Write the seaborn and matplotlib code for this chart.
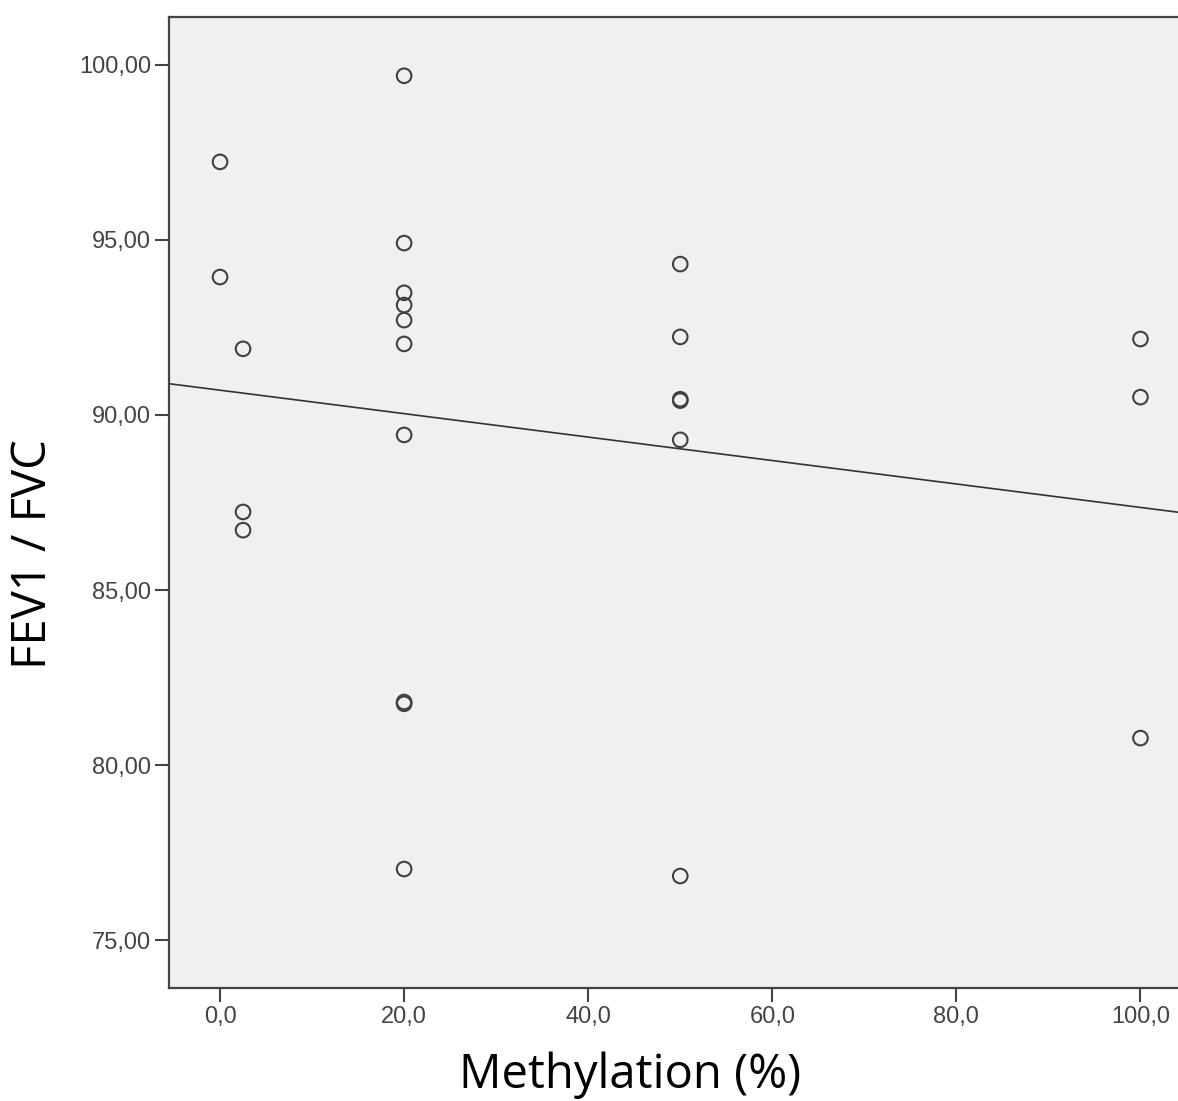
import numpy as np
import pandas as pd
import seaborn as sns
import matplotlib.pyplot as plt

# methylation (%) and FEV1/FVC
methylation = [0, 0,
               2.5, 2.5, 2.5,
               20, 20, 20, 20, 20, 20, 20, 20, 20, 20,
               50, 50, 50, 50, 50, 50,
               100, 100, 100]
fev1_fvc = [97.23, 93.94,
            91.89, 87.23, 86.71,
            99.69, 94.91, 93.49, 93.14, 92.71, 92.03, 89.43, 81.80, 81.75, 77.03,
            94.31, 92.23, 90.45, 90.41, 89.29, 76.83,
            92.17, 90.51, 80.77]

x_ticks = [0, 20, 40, 60, 80, 100]
x_labels = ['0,0', '20,0', '40,0', '60,0', '80,0', '100,0']
y_ticks = [75, 80, 85, 90, 95, 100]
y_labels = ['75,00', '80,00', '85,00', '90,00', '95,00', '100,00']

df = pd.DataFrame({'Methylation': methylation, 'FEV1_FVC': fev1_fvc})

sns.set_style('white')
plt.rcParams['font.family'] = ['Liberation Sans', 'DejaVu Sans']

fig = plt.figure(figsize=(11.78, 11.01), dpi=100)
ax = fig.add_axes([0.1435, 0.1026, 0.8676, 0.882])
ax.set_facecolor('#f0f0f0')
ax.set_xlim(-5.54, 105.5)
ax.set_ylim(73.63, 101.37)

sns.regplot(data=df, x='Methylation', y='FEV1_FVC', ax=ax, ci=None, truncate=False,
            scatter_kws={'s': 110, 'facecolors': 'none', 'edgecolors': '#404040',
                         'linewidths': 1.5, 'alpha': 1},
            line_kws={'color': '#333333', 'linewidth': 1.2})

ax.set_xticks(x_ticks)
ax.set_xticklabels(x_labels)
ax.set_yticks(y_ticks)
ax.set_yticklabels(y_labels)
ax.tick_params(axis='both', direction='out', length=10, width=1.5,
               color='#444444', labelcolor='#444444', labelsize=17, pad=3,
               left=True, bottom=True)

for side in ['left', 'top', 'bottom', 'right']:
    ax.spines[side].set_color('#444444')
    ax.spines[side].set_linewidth(1.6)

ax.set_xlabel('Methylation (%)', fontsize=34, family='Open Sans', weight='medium', color='black')
ax.set_ylabel('FEV1 / FVC', fontsize=34, family='Open Sans', weight='medium', color='black')
ax.xaxis.label.set(va='center', ha='center')
ax.yaxis.label.set(va='center', ha='center', rotation_mode='default')
ax.xaxis.set_label_coords(0.451, -0.0900)
ax.yaxis.set_label_coords(-0.133, 0.447)

fig.savefig('out.png', dpi=100)
